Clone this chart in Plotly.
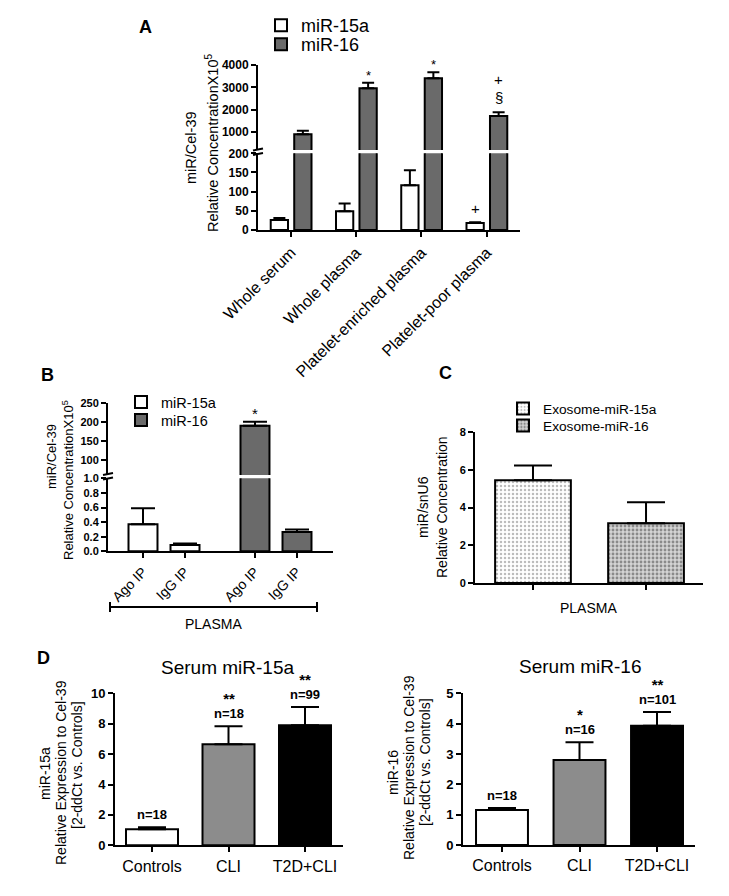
import plotly.graph_objects as go

FONT = "Liberation Sans, Arial, sans-serif"
W, H = 729, 896
OFF = 8  # page body margin of the rendered html

# ---------------- Data ----------------
# Panel A
A_categories = ["Whole serum", "Whole plasma", "Platelet-enriched plasma", "Platelet-poor plasma"]
A_mir15a = [26, 49, 117, 18]
A_mir15a_err = [5, 20, 39, 2]
A_mir16 = [900, 2955, 3405, 1715]
A_mir16_err = [155, 250, 270, 165]
A_mir16_marks = ["", "*", "*", "§"]
A_mir16_marks2 = ["", "", "", "+"]
A_mir15a_marks = ["", "", "", "+"]
A_lower_ticks = [0, 50, 100, 150, 200]
A_upper_ticks = [1000, 2000, 3000, 4000]

# Panel B
B_categories = ["Ago IP", "IgG IP"]
B_mir15a = [0.37, 0.087]
B_mir15a_err = [0.22, 0.02]
B_mir16 = [190, 0.265]
B_mir16_err = [10, 0.035]
B_mir16_marks = ["*", ""]
B_lower_ticks = [0, 0.2, 0.4, 0.6, 0.8, 1.0]
B_lower_ticktext = ["0.0", "0.2", "0.4", "0.6", "0.8", "1.0"]
B_upper_ticks = [100, 150, 200, 250]

# Panel C
C_labels = ["Exosome-miR-15a", "Exosome-miR-16"]
C_values = [5.45, 3.17]
C_err = [0.78, 1.11]
C_ticks = [0, 2, 4, 6, 8]

# Panel D
D_categories = ["Controls", "CLI", "T2D+CLI"]
D_mir15a = [1.05, 6.64, 7.9]
D_mir15a_err = [0.13, 1.2, 1.2]
D_mir15a_n = ["n=18", "n=18", "n=99"]
D_mir15a_sig = ["", "**", "**"]
D_mir16 = [1.15, 2.8, 3.93]
D_mir16_err = [0.07, 0.59, 0.45]
D_mir16_n = ["n=18", "n=16", "n=101"]
D_mir16_sig = ["", "*", "**"]
D_ticks_15a = [0, 2, 4, 6, 8, 10]
D_ticks_16 = [0, 1, 2, 3, 4, 5]

# ---------------- Helpers ----------------
WHITE = "white"
DARK = "#6a6a6a"
MID = "#8c8c8c"
BLACK = "black"


def PX(p):
    return (p - OFF) / W


def PY(p):
    return 1 - (p - OFF) / H


def bar(x, y, err, xa, ya, color, width, offset=None, name=None, legend=None,
        showlegend=False, capw=6, pattern=None):
    marker = dict(color=color, line=dict(color="black", width=2))
    if pattern is not None:
        marker["pattern"] = pattern
    kw = dict(x=x, y=y, xaxis=xa, yaxis=ya, width=width, marker=marker,
              error_y=dict(type="data", array=err, arrayminus=[0] * len(err),
                           symmetric=False, color="black", thickness=2, width=capw),
              name=name if name else "trace", showlegend=showlegend, hoverinfo="skip")
    if offset is not None:
        kw["offset"] = offset
    if legend is not None:
        kw["legend"] = legend
    return go.Bar(**kw)


def yax(domain, rng, tickvals, anchor, fs, ticktext=None):
    d = dict(domain=domain, range=rng, tickvals=tickvals, anchor=anchor,
             showline=True, linecolor="black", linewidth=2, ticks="outside",
             ticklen=5, tickwidth=2, tickcolor="black", showgrid=False,
             zeroline=False, fixedrange=True, automargin=False,
             tickfont=dict(family=FONT, size=fs, color="black", weight="bold"))
    if ticktext is not None:
        d["ticktext"] = ticktext
    return d


def xax(domain, rng, cats, anchor, fs, angle=0, show=True):
    return dict(domain=domain, range=rng, type="category", categoryorder="array",
                categoryarray=cats, anchor=anchor, showline=True, linecolor="black",
                linewidth=2, ticks="outside", ticklen=5, tickwidth=2, tickcolor="black",
                showgrid=False, zeroline=False, fixedrange=True, tickangle=angle,
                showticklabels=show, automargin=False,
                tickfont=dict(family=FONT, size=fs, color="black"))


traces = []
annotations = []
shapes = []


def note(text, xref, yref, x, y, fs, xshift=0, yshift=0, bold=False):
    annotations.append(dict(text=text, xref=xref, yref=yref, x=x, y=y,
                            xshift=xshift, yshift=yshift, showarrow=False,
                            yanchor="bottom", xanchor="center",
                            font=dict(family=FONT, size=fs, color="black",
                                      weight="bold" if bold else "normal")))


def ptext(text, px, py, fs, angle=0, bold=False, xanchor="center"):
    annotations.append(dict(text=text, xref="paper", yref="paper", x=PX(px), y=PY(py),
                            showarrow=False, textangle=angle, xanchor=xanchor,
                            yanchor="middle",
                            font=dict(family=FONT, size=fs, color="black",
                                      weight="bold" if bold else "normal")))


def pline(x0, y0, x1, y1, w=2, color="black"):
    shapes.append(dict(type="line", xref="paper", yref="paper", x0=PX(x0), y0=PY(y0),
                       x1=PX(x1), y1=PY(y1), line=dict(color=color, width=w)))


def stacked(sig, n):
    # significance mark stacked above the group size
    if sig:
        return ("<span style='font-size:15px'>%s</span><br>"
                "<span style='font-size:13px'>%s</span>" % (sig, n))
    return "<span style='font-size:13px'>%s</span>" % n


# ---------------- Panel A ----------------
wA = 0.265
offA15, offA16 = -0.31, 0.05
traces.append(bar(A_categories, A_mir15a, A_mir15a_err, "x", "y", WHITE, wA, offA15,
                  name="miR-15a", legend="legend", showlegend=True, capw=6))
traces.append(bar(A_categories, A_mir16, A_mir16_err, "x", "y", DARK, wA, offA16,
                  name="miR-16", legend="legend2", showlegend=True, capw=6))
traces.append(bar(A_categories, A_mir16, A_mir16_err, "x", "y2", DARK, wA, offA16,
                  name="miR-16", legend="legend2", showlegend=False, capw=6))

sh16 = (offA16 + wA / 2) * 65.3
sh15 = (offA15 + wA / 2) * 65.3
for c, v, e, m in zip(A_categories, A_mir16, A_mir16_err, A_mir16_marks):
    if m == "*":
        note(m, "x", "y2", c, v + e, 13, xshift=sh16, yshift=-2)
    elif m:
        note(m, "x", "y2", c, v + e, 15, xshift=sh16, yshift=4)
for c, v, e, m in zip(A_categories, A_mir16, A_mir16_err, A_mir16_marks2):
    if m:
        note(m, "x", "y2", c, v + e, 15, xshift=sh16, yshift=22)
for c, v, e, m in zip(A_categories, A_mir15a, A_mir15a_err, A_mir15a_marks):
    if m:
        note(m, "x", "y", c, v + e, 15, xshift=sh15, yshift=3)

# ---------------- Panel B ----------------
wB = 0.69
traces.append(bar(B_categories, B_mir15a, B_mir15a_err, "x2", "y3", WHITE, wB,
                  name="miR-15a", legend="legend3", showlegend=True, capw=12))
traces.append(bar(B_categories, B_mir16, B_mir16_err, "x3", "y3", DARK, wB,
                  name="miR-16", legend="legend4", showlegend=True, capw=12))
traces.append(bar(B_categories, B_mir16, B_mir16_err, "x3", "y4", DARK, wB,
                  name="miR-16", legend="legend4", showlegend=False, capw=12))
for c, v, e, m in zip(B_categories, B_mir16, B_mir16_err, B_mir16_marks):
    if m:
        note(m, "x3", "y4", c, v + e, 15, yshift=-2)

# ---------------- Panel C ----------------
C_colors = ["white", "#d9d9d9"]
C_patterns = [dict(shape=".", fgcolor="#bcbcbc", bgcolor="white", size=4, solidity=0.3),
              dict(shape=".", fgcolor="#8a8a8a", bgcolor="#d4d4d4", size=4, solidity=0.4)]
C_legends = ["legend5", "legend6"]
for lab, v, e, col, pat, lg in zip(C_labels, C_values, C_err, C_colors, C_patterns, C_legends):
    traces.append(bar([lab], [v], [e], "x4", "y5", col, 0.67, name=lab,
                      legend=lg, showlegend=True, capw=19, pattern=pat))

# ---------------- Panel D ----------------
D_colors = [WHITE, MID, BLACK]
traces.append(bar(D_categories, D_mir15a, D_mir15a_err, "x5", "y6", D_colors, 0.68, capw=14))
traces.append(bar(D_categories, D_mir16, D_mir16_err, "x6", "y7", D_colors, 0.67, capw=14))
for c, v, e, n, s in zip(D_categories, D_mir15a, D_mir15a_err, D_mir15a_n, D_mir15a_sig):
    note(stacked(s, n), "x5", "y6", c, v + e, 10.5, yshift=3, bold=True)
for c, v, e, n, s in zip(D_categories, D_mir16, D_mir16_err, D_mir16_n, D_mir16_sig):
    note(stacked(s, n), "x6", "y7", c, v + e, 10.5, yshift=3, bold=True)

# ---------------- Static text / decorations ----------------
ptext("A", 145, 27, 18, bold=True)
ptext("B", 47, 375, 18, bold=True)
ptext("C", 445, 373, 18, bold=True)
ptext("D", 43, 658, 18, bold=True)

ptext("miR/Cel-39", 191, 148, 14.5, angle=-90)
ptext("Relative ConcentrationX10<sup>5</sup>", 212, 143, 14.5, angle=-90)
ptext("miR/Cel-39", 51, 457, 13, angle=-90)
ptext("Relative ConcentrationX10<sup>5</sup>", 68, 480, 13, angle=-90)
ptext("miR/snU6", 423, 507, 14, angle=-90)
ptext("Relative Concentration", 442, 507, 14, angle=-90)
ptext("miR-15a", 45, 774, 14, angle=-90)
ptext("Relative Expression to Cel-39", 61, 773, 14, angle=-90)
ptext("[2-ddCt vs. Controls]", 77, 765, 14, angle=-90)
ptext("miR-16", 393, 773, 14, angle=-90)
ptext("Relative Expression to Cel-39", 409, 768, 14, angle=-90)
ptext("[2-ddCt vs. Controls]", 425, 762, 14, angle=-90)

ptext("Serum miR-15a", 228, 667, 19)
ptext("Serum miR-16", 580, 666, 19)
ptext("PLASMA", 213, 624, 14)
ptext("PLASMA", 588, 608, 14)

# PLASMA bracket (panel B)
pline(110, 607, 317, 607)
pline(110, 602, 110, 612)
pline(317, 602, 317, 612)

# axis break marks
pline(253, 150.5, 263, 148.5)
pline(253, 155, 263, 153)
pline(103, 475, 113, 473)
pline(103, 479.5, 113, 477.5)


def leg(px, py, fs):
    return dict(x=PX(px), y=PY(py), xanchor="left", yanchor="top",
                bgcolor="rgba(0,0,0,0)", font=dict(family=FONT, size=fs, color="black"),
                tracegroupgap=0, itemclick=False, itemdoubleclick=False)


layout = dict(
    template="none",
    width=W, height=H, autosize=False,
    margin=dict(l=0, r=0, t=0, b=0, pad=0, autoexpand=False),
    paper_bgcolor="white", plot_bgcolor="white",
    barmode="overlay",
    font=dict(family=FONT, color="black"),
    annotations=annotations, shapes=shapes,
    # Panel A
    xaxis=xax([PX(258), PX(520)], [-0.505, 3.51], A_categories, "y", 16, angle=-45),
    yaxis=yax([PY(230), PY(153.3)], [0, 200], A_lower_ticks, "x", 12),
    yaxis2=yax([PY(150), PY(65)], [194, 4000], A_upper_ticks, "x", 12),
    # Panel B
    xaxis2=xax([PX(108), PX(220)], [-0.833, 1.833], B_categories, "y3", 14, angle=-45),
    xaxis3=xax([PX(220), PX(333)], [-0.833, 1.857], B_categories, "y3", 14, angle=-45),
    yaxis3=yax([PY(551.3), PY(478.3)], [0, 1.0], B_lower_ticks, "x2", 11,
               ticktext=B_lower_ticktext),
    yaxis4=yax([PY(475), PY(402.7)], [60.8, 250], B_upper_ticks, "x2", 11),
    # Panel C
    xaxis4=xax([PX(475), PX(703)], [-0.513, 1.504], C_labels, "y5", 12, show=False),
    yaxis5=yax([PY(583), PY(432)], [0, 8], C_ticks, "x4", 11),
    # Panel D
    xaxis5=xax([PX(115), PX(343)], [-0.484, 2.497], D_categories, "y6", 16),
    yaxis6=yax([PY(845.3), PY(693.3)], [0, 10], D_ticks_15a, "x5", 13),
    xaxis6=xax([PX(463), PX(695)], [-0.503, 2.49], D_categories, "y7", 16),
    yaxis7=yax([PY(845), PY(693.3)], [0, 5], D_ticks_16, "x6", 13),
    legend=leg(261, 7, 18),
    legend2=leg(261, 26, 18),
    legend3=leg(121, 386, 14.5),
    legend4=leg(121, 404, 14.5),
    legend5=leg(503, 393, 13.7),
    legend6=leg(503, 410, 13.7),
)

fig = go.Figure(data=traces, layout=layout)
fig.write_html("out.html", config=dict(displayModeBar=False, staticPlot=True))
